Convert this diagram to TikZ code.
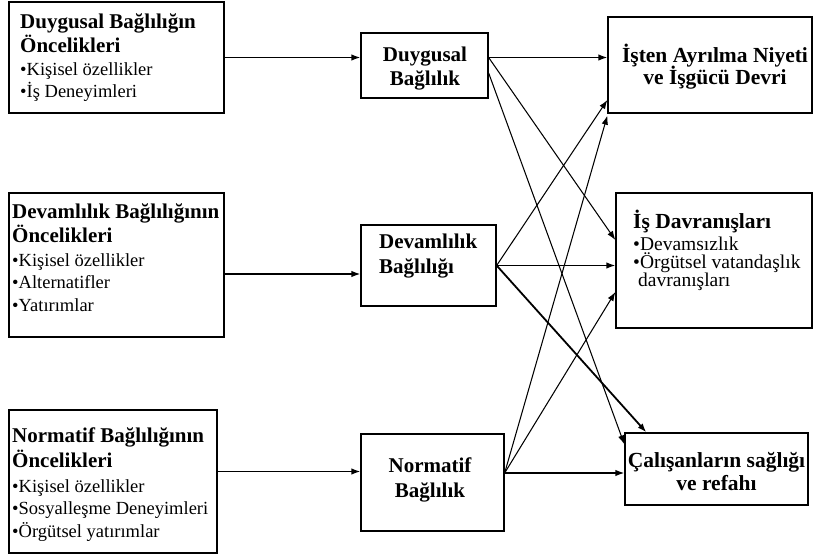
\documentclass[tikz,border=0pt]{standalone}
\usepackage{fontspec}
\setmainfont{Liberation Serif}
\usetikzlibrary{arrows.meta}
\tikzset{
  kutu/.style = {draw, line width=1.3pt, inner sep=0pt},% kutu cercevesi
  baslik/.style = {inner sep=0pt, align=left,
    font=\fontsize{21}{24.5}\selectfont\bfseries},% kalin baslik
  orta/.style = {baslik, align=center, anchor=base},% ortali baslik
  sagbaslik/.style = {font=\fontsize{21.5}{24.5}\selectfont\bfseries},% sag kutu basligi
  liste/.style = {inner sep=0pt, align=left,
    font=\fontsize{18.5}{22.5}\selectfont},% madde listesi
  yatay/.style = {->, line width=1.4pt},
  capraz/.style = {->, line width=1.05pt},
  kalin/.style = {->, line width=1.8pt},
}

\begin{document}
\begin{tikzpicture}[x=1pt, y=-1pt, >={Latex[length=9pt,width=6.5pt]}]
\useasboundingbox (0,0) rectangle (815,559);
% sol kutular (oncelikler), metin son satirin tabanina gore
\node [kutu, minimum width=215pt, minimum height=111pt] (dant) at (116.5,57.5) {};
\node [baslik, anchor=base west] (dant-b) at (20,53) {Duygusal Bağlılığın\\Öncelikleri};
\node [liste, anchor=base west] (dant-l) at (20,98) {•Kişisel özellikler\\•İş Deneyimleri};

\node [kutu, minimum width=215pt, minimum height=144pt] (devant) at (116.5,265) {};
\node [baslik, anchor=base west] (devant-b) at (12,243) {Devamlılık Bağlılığının\\Öncelikleri};
\node [liste, anchor=base west] (devant-l) at (12,311) {•Kişisel özellikler\\[-0.5pt]•Alternatifler\\[-0.5pt]•Yatırımlar};

\node [kutu, minimum width=208pt, minimum height=143pt] (norant) at (113,481.5) {};
\node [baslik, anchor=base west] (norant-b) at (12,467) {Normatif Bağlılığının\\Öncelikleri};
\node [liste, anchor=base west] (norant-l) at (12,537) {•Kişisel özellikler\\•Sosyalleşme Deneyimleri\\•Örgütsel yatırımlar};

% orta kutular (baglilik turleri)
\node [kutu, minimum width=127pt, minimum height=65pt] (duyg) at (424.5,65.5) {};
\node [orta] (duyg-b) at (425,86) {Duygusal\\Bağlılık};

\node [kutu, minimum width=135pt, minimum height=81pt] (devam) at (428.5,265.5) {};
\node [baslik, anchor=base west] (devam-b) at (379,273) {Devamlılık\\Bağlılığı};

\node [kutu, minimum width=143pt, minimum height=97pt] (norm) at (432.5,482.5) {};
\node [orta] (norm-b) at (430,497) {Normatif\\Bağlılık};

% sag kutular (sonuclar)
\node [kutu, minimum width=204pt, minimum height=96pt] (isten) at (710,65) {};
\node [orta, sagbaslik] (isten-b) at (715,85) {İşten Ayrılma Niyeti\\[-2.5pt]ve İşgücü Devri};

\node [kutu, minimum width=196pt, minimum height=135pt] (isdav) at (714,260.5) {};
\node [baslik, sagbaslik, anchor=base west] (isdav-b) at (633,228.5) {İş Davranışları};
\node [liste, font=\fontsize{19.5}{22.5}\selectfont, anchor=base west] (isdav-l) at (633,287) {•Devamsızlık\\[-4.5pt]•Örgütsel vatandaşlık\\[-4.5pt]\hspace{5pt}davranışları};

\node [kutu, minimum width=183pt, minimum height=72pt] (calis) at (716.5,469) {};
\node [orta, sagbaslik] (calis-b) at (716.5,490) {Çalışanların sağlığı\\[-1.5pt]ve refahı};

% cikis noktalari
\coordinate (duygO) at (dant.east -| duyg.east);
\coordinate (devamO) at (devam.east);
\coordinate (normO) at ([yshift=9.5pt]norm.east);

% oklar
\draw [yatay] (dant.east) -- (dant.east -| duyg.west);
\draw [yatay] ([yshift=-9pt]devant.east) -- ([yshift=-9pt]devant.east -| devam.west);
\draw [yatay] ([yshift=10pt]norant.east) -- ([yshift=10pt]norant.east -| norm.west);

\draw [yatay] (duygO) -- (duygO -| isten.west);
\draw [capraz] (duygO) -- ([yshift=20.5pt]isdav.west);
\draw [capraz] ([yshift=-7.5pt]duyg.east) -- ([yshift=-12pt]calis.north west);

\draw [capraz] (devamO) -- ([yshift=-35pt]isten.west);
\draw [yatay] (devamO) -- (devamO -| isdav.west);
\draw [kalin] (devamO) -- ([xshift=22pt]calis.north west);

\draw [capraz] (normO) -- ([yshift=-2pt]isten.south west);
\draw [capraz] (normO) -- ([yshift=-31.5pt]isdav.west);
\draw [yatay] (normO) -- (normO -| calis.west);
\end{tikzpicture}
\end{document}
